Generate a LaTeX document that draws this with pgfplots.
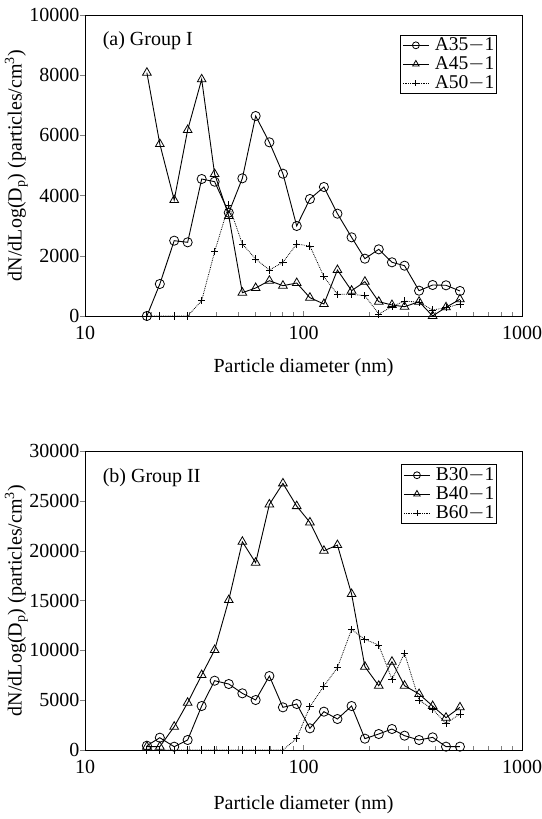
\documentclass[border=0pt]{standalone}
\usepackage{fontspec}
\setmainfont{Liberation Serif}
\usepackage{pgfplots}
\pgfplotsset{compat=1.18}
\pgfplotsset{
  legend image code/.code={\draw[mark repeat=2,mark phase=2,#1,every mark/.append style={scale=0.75}] plot coordinates {(0pt,0pt)(13pt,0pt)(26pt,0pt)};},
  circ/.style={black, line width=0.9pt, mark=o, mark size=4.6pt, mark options={solid, fill=white, line width=0.8pt}},
  tri/.style={black, line width=0.9pt, mark=triangle, mark size=5pt, mark options={solid, fill=white, line width=0.8pt}},
  pls/.style={black, line width=0.8pt, densely dotted, mark=+, mark size=3.6pt, mark options={solid, line width=0.9pt}},
}
\begin{document}
\fontsize{20}{23}\selectfont
\begin{tikzpicture}
\path[use as bounding box] (0pt,0pt) rectangle (541pt,819pt);
% ---------------- (a) ----------------
\begin{axis}[
  at={(85pt,503pt)}, anchor=south west,
  scale only axis, width=437pt, height=301pt,
  xmode=log, xmin=10, xmax=1000,
  xtick={10,100,1000}, xticklabels={10,100,1000},
  minor xtick={20,30,40,50,60,70,80,90,200,300,400,500,600,700,800,900},
  ymin=0, ymax=10000, ytick={0,2000,4000,6000,8000,10000},
  xtick pos=bottom, ytick pos=left,
  xtick align=inside, ytick align=outside,
  major tick length=5pt, minor tick length=4pt,
  axis line style={line width=0.9pt},
  /pgf/number format/1000 sep={},
  /pgf/number format/assume math mode=true,
  scaled y ticks=false,
  tick label style={font=\fontsize{20}{23}\selectfont},
  yticklabel style={inner sep=0.5pt},
  xticklabel style={yshift=-3pt},
  xlabel style={font=\fontsize{20}{23}\selectfont},
  ylabel style={font=\fontsize{19}{22}\selectfont},
  xlabel={Particle diameter (nm)},
  ylabel={dN/dLog(D\textsubscript{p}) (particles/cm\textsuperscript{3})},
  every axis y label/.style={at={(axis description cs:-0.157,0.5)}, anchor=center, rotate=90},
  every axis x label/.style={at={(axis description cs:0.5,-0.173)}, anchor=center},
  legend style={font=\fontsize{19.5}{22}\selectfont, draw=black, line width=0.6pt,
    at={(0.943,0.935)}, anchor=north east, inner sep=2pt, row sep=2pt, column sep=5pt,
    nodes={inner sep=0.5pt}},
  legend cell align=left,
]
\addplot[circ] coordinates {
(19.2,0) (22.0,1063) (25.6,2502) (29.5,2448) (34.2,4551) (39.2,4462) (45.5,3432) (52.5,4574)
(60.4,6644) (69.8,5770) (80.5,4728) (93.1,2990) (107,3887) (124,4286) (143,3399) (166,2614)
(191,1904) (221,2215) (254,1784) (290,1671) (338,841) (390,1030) (449,1020) (520,831)};
\addlegendentry{A35$-$1}
\addplot[tri] coordinates {
(19.2,8083) (22.0,5714) (25.6,3854) (29.5,6179) (34.2,7863) (39.2,4718) (45.5,3322) (52.5,774)
(60.4,930) (69.8,1173) (80.5,1007) (93.1,1096) (107,608) (124,399) (143,1528) (166,841)
(191,1140) (221,475) (254,365) (290,309) (338,475) (390,0) (449,289) (520,555)};
\addlegendentry{A45$-$1}
\addplot[pls] coordinates {
(19.2,0) (22.0,0) (25.6,0) (29.5,0) (34.2,508) (39.2,2136) (45.5,3688) (52.5,2392)
(60.4,1894) (69.8,1528) (80.5,1784) (93.1,2392) (107,2326) (124,1306) (143,721) (166,721)
(191,674) (221,66) (254,309) (290,498) (338,455) (390,200) (449,276) (520,400)};
\addlegendentry{A50$-$1}
\node[anchor=west, font=\fontsize{20}{23}\selectfont] at (axis description cs:0.025,0.914) {(a) Group I};
\end{axis}
% ---------------- (b) ----------------
\begin{axis}[
  at={(85pt,69pt)}, anchor=south west,
  scale only axis, width=437pt, height=299pt,
  xmode=log, xmin=10, xmax=1000,
  xtick={10,100,1000}, xticklabels={10,100,1000},
  minor xtick={20,30,40,50,60,70,80,90,200,300,400,500,600,700,800,900},
  ymin=0, ymax=30000, ytick={0,5000,10000,15000,20000,25000,30000},
  xtick pos=bottom, ytick pos=left,
  xtick align=inside, ytick align=outside,
  major tick length=5pt, minor tick length=4pt,
  axis line style={line width=0.9pt},
  /pgf/number format/1000 sep={},
  /pgf/number format/assume math mode=true,
  scaled y ticks=false,
  tick label style={font=\fontsize{20}{23}\selectfont},
  yticklabel style={inner sep=0.5pt},
  xticklabel style={yshift=-3pt},
  xlabel style={font=\fontsize{20}{23}\selectfont},
  ylabel style={font=\fontsize{19}{22}\selectfont},
  xlabel={Particle diameter (nm)},
  ylabel={dN/dLog(D\textsubscript{p}) (particles/cm\textsuperscript{3})},
  every axis y label/.style={at={(axis description cs:-0.157,0.5)}, anchor=center, rotate=90},
  every axis x label/.style={at={(axis description cs:0.5,-0.184)}, anchor=center},
  legend style={font=\fontsize{19.5}{22}\selectfont, draw=black, line width=0.6pt,
    at={(0.943,0.955)}, anchor=north east, inner sep=2pt, row sep=2pt, column sep=5pt,
    nodes={inner sep=0.5pt}},
  legend cell align=left,
]
\addplot[circ] coordinates {
(19.2,431) (22.0,1234) (25.6,331) (29.5,1003) (34.2,4413) (39.2,6951) (45.5,6620) (52.5,5687)
(60.4,5015) (69.8,7422) (80.5,4280) (93.1,4614) (107,2173) (124,3845) (143,3109) (166,4413)
(191,1137) (221,1605) (254,2106) (290,1437) (338,1003) (390,1270) (449,334) (520,334)};
\addlegendentry{B30$-$1}
\addplot[tri] coordinates {
(19.2,334) (22.0,334) (25.6,2340) (29.5,4745) (34.2,7523) (39.2,10030) (45.5,15045) (52.5,20893)
(60.4,18790) (69.8,24640) (80.5,26750) (93.1,24470) (107,22835) (124,19990) (143,20560) (166,15650)
(191,8360) (221,6450) (254,8860) (290,6450) (338,5617) (390,4413) (449,3243) (520,4280)};
\addlegendentry{B40$-$1}
\addplot[pls] coordinates {
(19.2,0) (22.0,0) (25.6,0) (29.5,0) (34.2,0) (39.2,0) (45.5,0) (52.5,0)
(60.4,0) (69.8,0) (80.5,0) (93.1,1170) (107,4347) (124,6420) (143,8260) (166,12100)
(191,11100) (221,10530) (254,7090) (290,9700) (338,5015) (390,4080) (449,2675) (520,3610)};
\addlegendentry{B60$-$1}
\node[anchor=west, font=\fontsize{20}{23}\selectfont] at (axis description cs:0.025,0.91) {(b) Group II};
\end{axis}
\end{tikzpicture}
\end{document}
